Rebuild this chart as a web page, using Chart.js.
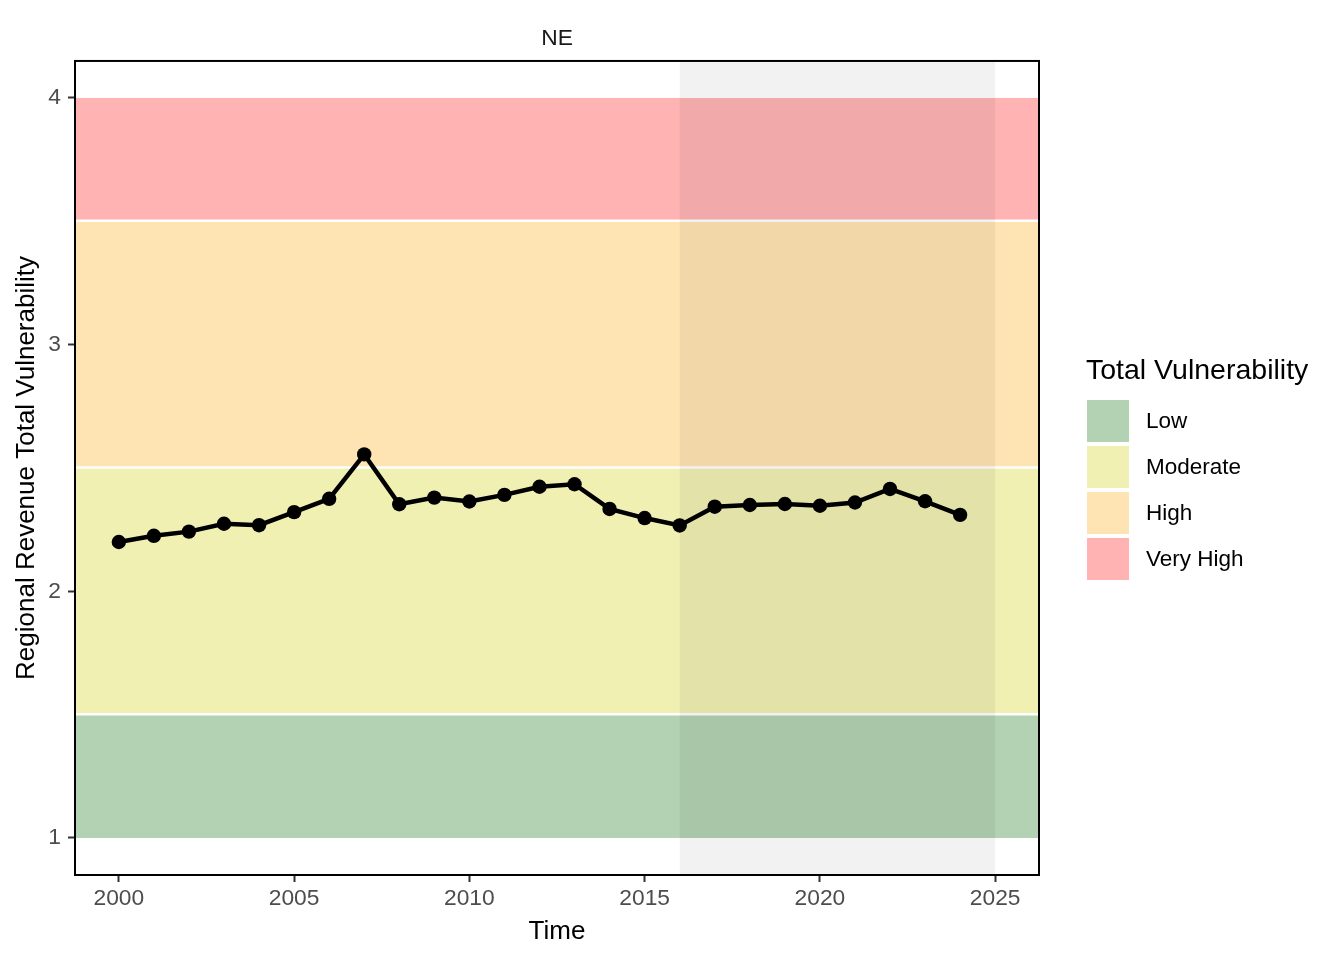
<!DOCTYPE html>
<html>
<head>
<meta charset="utf-8">
<script src="https://cdn.jsdelivr.net/npm/chart.js@4.4.1/dist/chart.umd.min.js"></script>
<style>
  html, body { margin: 0; padding: 0; background: #ffffff; }
  canvas { display: block; }
</style>
</head>
<body>
<canvas id="c" width="1344" height="960"></canvas>
<script>
// ---- data ----
const years = [2000, 2001, 2002, 2003, 2004, 2005, 2006, 2007, 2008, 2009, 2010, 2011, 2012,
               2013, 2014, 2015, 2016, 2017, 2018, 2019, 2020, 2021, 2022, 2023, 2024];
const vulnerability = [2.200, 2.225, 2.242, 2.274, 2.268, 2.321, 2.375, 2.555, 2.353, 2.380, 2.364, 2.391, 2.424,
                       2.434, 2.334, 2.297, 2.267, 2.343, 2.350, 2.354, 2.347, 2.360, 2.415, 2.365, 2.310];
const xTicks = [2000, 2005, 2010, 2015, 2020, 2025];
const yTicks = [1, 2, 3, 4];
const levels = ['Low', 'Moderate', 'High', 'Very High'];
const bandMin = [1, 1.5, 2.5, 3.5];
const bandMax = [1.5, 2.5, 3.5, 4];
const shadeStart = 2016;
const shadeEnd = 2025;

// ---- styles ----
const FONT = "'Liberation Sans', Arial, Helvetica, sans-serif";
const bandColors = ['rgb(179,209,179)', 'rgb(240,240,179)', 'rgb(255,228,179)', 'rgb(255,179,179)'];

const bandsPlugin = {
  id: 'bands',
  beforeDatasetsDraw(chart) {
    const { ctx, chartArea: a, scales: { x, y } } = chart;
    ctx.save();
    ctx.beginPath();
    ctx.rect(a.left, a.top, a.right - a.left, a.bottom - a.top);
    ctx.clip();
    for (let i = 0; i < levels.length; i++) {
      const yTop = y.getPixelForValue(bandMax[i]);
      const yBot = y.getPixelForValue(bandMin[i]);
      ctx.fillStyle = bandColors[i];
      ctx.fillRect(a.left, yTop, a.right - a.left, yBot - yTop);
    }
    // white separators between adjacent bands
    ctx.strokeStyle = '#ffffff';
    ctx.lineWidth = 2.5;
    for (let i = 1; i < levels.length; i++) {
      const py = y.getPixelForValue(bandMin[i]) - 0.5;
      ctx.beginPath();
      ctx.moveTo(a.left, py);
      ctx.lineTo(a.right, py);
      ctx.stroke();
    }
    const sx0 = x.getPixelForValue(shadeStart);
    const sx1 = x.getPixelForValue(shadeEnd);
    ctx.fillStyle = 'rgba(0,0,0,0.05)';
    ctx.fillRect(sx0, a.top, sx1 - sx0, a.bottom - a.top);
    ctx.restore();
  },
  afterDraw(chart) {
    const { ctx, chartArea: a } = chart;
    ctx.save();
    ctx.strokeStyle = '#000000';
    ctx.lineWidth = 2;
    ctx.strokeRect(a.left, a.top, a.right - a.left, a.bottom - a.top);

    // legend
    ctx.fillStyle = '#000000';
    ctx.textAlign = 'left';
    ctx.textBaseline = 'alphabetic';
    ctx.font = '28.5px ' + FONT;
    ctx.fillText('Total Vulnerability', 1086, 379);
    ctx.font = '22.5px ' + FONT;
    ctx.textBaseline = 'middle';
    for (let i = 0; i < levels.length; i++) {
      const ky = 400 + i * 46;
      ctx.fillStyle = bandColors[i];
      ctx.fillRect(1087, ky, 42, 42);
      ctx.fillStyle = '#000000';
      ctx.fillText(levels[i], 1146, ky + 22);
    }
    ctx.restore();
  }
};

new Chart(document.getElementById('c'), {
  type: 'line',
  data: {
    datasets: [{
      data: years.map((yr, i) => ({ x: yr, y: vulnerability[i] })),
      borderColor: '#000000',
      backgroundColor: '#000000',
      borderWidth: 4.5,
      pointRadius: 7.2,
      pointBackgroundColor: '#000000',
      pointBorderWidth: 0,
      tension: 0,
      fill: false
    }]
  },
  options: {
    responsive: false,
    animation: false,
    devicePixelRatio: 1,
    layout: { padding: { left: 0, right: 305, top: 0, bottom: 0 } },
    plugins: {
      legend: { display: false },
      tooltip: { enabled: false },
      title: {
        display: true,
        text: 'NE',
        fullSize: false,
        color: '#1a1a1a',
        font: { family: FONT, size: 22.8, weight: 'normal' },
        padding: { top: 25, bottom: 8.6 }
      }
    },
    scales: {
      x: {
        type: 'linear',
        min: 1998.75,
        max: 2026.25,
        afterBuildTicks: s => { s.ticks = xTicks.map(v => ({ value: v })); },
        afterFit: s => { s.height = 85; },
        ticks: {
          color: '#4d4d4d',
          font: { family: FONT, size: 22.8 },
          padding: 3.5,
          maxRotation: 0,
          autoSkip: false,
          callback: v => String(v)
        },
        grid: { drawOnChartArea: false, drawTicks: true, tickLength: 7, tickWidth: 2, tickColor: '#333333' },
        border: { display: false },
        title: {
          display: true,
          text: 'Time',
          color: '#000000',
          font: { family: FONT, size: 26 },
          padding: { top: 0, bottom: 13 }
        }
      },
      y: {
        type: 'linear',
        min: 0.85,
        max: 4.15,
        afterBuildTicks: s => { s.ticks = yTicks.map(v => ({ value: v })); },
        afterFit: s => { s.width = 75; },
        ticks: {
          color: '#4d4d4d',
          font: { family: FONT, size: 22.8 },
          padding: 7,
          autoSkip: false,
          callback: v => String(v)
        },
        grid: { drawOnChartArea: false, drawTicks: true, tickLength: 7, tickWidth: 2, tickColor: '#333333' },
        border: { display: false },
        title: {
          display: true,
          text: 'Regional Revenue Total Vulnerability',
          color: '#000000',
          font: { family: FONT, size: 26 },
          padding: { top: 11, bottom: 0 }
        }
      }
    }
  },
  plugins: [bandsPlugin]
});
</script>
</body>
</html>
